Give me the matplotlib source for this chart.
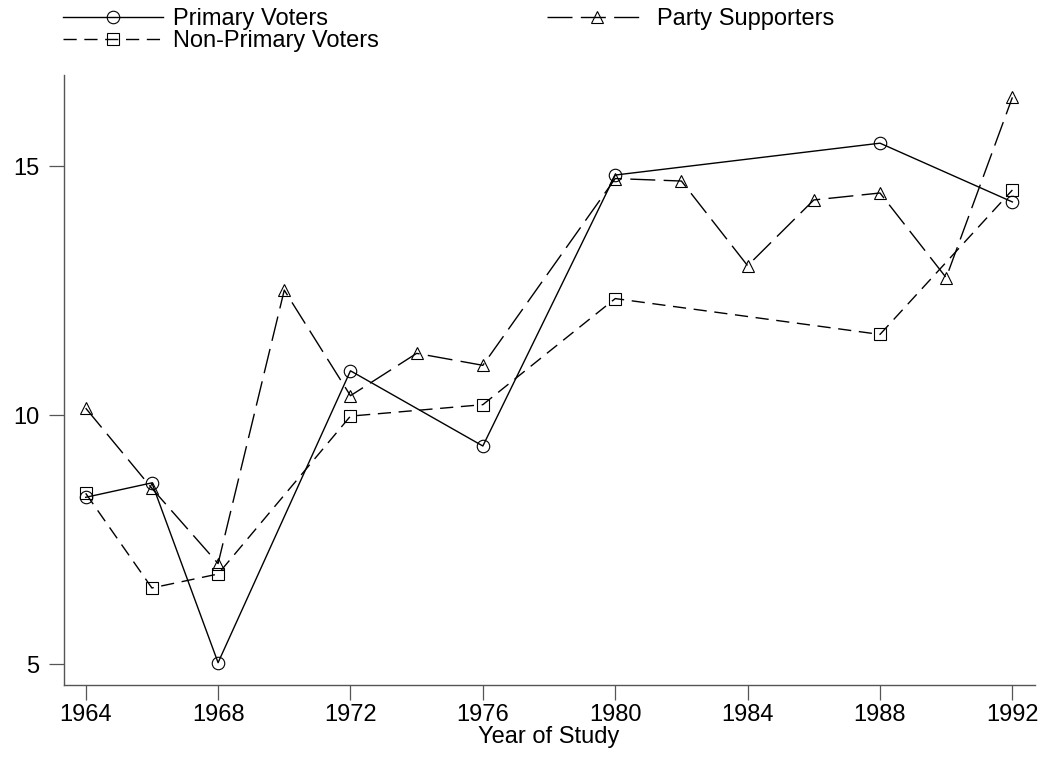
import matplotlib
matplotlib.use('Agg')
import matplotlib.pyplot as plt

plt.rcParams['font.family'] = ['Liberation Sans', 'DejaVu Sans']

# survey years and series values
primary_years = [1964, 1966, 1968, 1972, 1976, 1980, 1988, 1992]
primary_vals = [8.35, 8.64, 5.03, 10.89, 9.38, 14.82, 15.46, 14.28]

nonprimary_years = [1964, 1966, 1968, 1972, 1976, 1980, 1988, 1992]
nonprimary_vals = [8.43, 6.53, 6.81, 9.98, 10.21, 12.34, 11.62, 14.52]

party_years = [1964, 1966, 1968, 1970, 1972, 1974, 1976, 1980, 1982, 1984,
               1986, 1988, 1990, 1992]
party_vals = [10.14, 8.53, 7.02, 12.51, 10.39, 11.24, 11.0, 14.75, 14.70,
              13.0, 14.32, 14.46, 12.76, 16.38]

xticks = [1964, 1968, 1972, 1976, 1980, 1984, 1988, 1992]
yticks = [5, 10, 15]

fig = plt.figure(figsize=(10.43, 7.57), dpi=100)
ax = fig.add_axes([0.0609, 0.095, 0.931, 0.806])

mk = dict(markersize=9, markerfacecolor='none', markeredgecolor='black',
          markeredgewidth=0.8, color='black', linewidth=1.0)

l1, = ax.plot(primary_years, primary_vals, marker='o', linestyle='-',
              label='Primary Voters', **mk)
l2, = ax.plot(nonprimary_years, nonprimary_vals, marker='s', linestyle='--',
              dashes=(9.5, 5.5), label='Non-Primary Voters', **mk)
l3, = ax.plot(party_years, party_vals, marker='^', linestyle='--',
              dashes=(18, 6), label='Party Supporters', **mk)

ax.set_xlim(1963.33, 1992.67)
ax.set_ylim(4.58, 16.83)
ax.set_xticks(xticks)
ax.set_yticks(yticks)

for side in ['top', 'right']:
    ax.spines[side].set_visible(False)
for side in ['left', 'bottom']:
    ax.spines[side].set_color('#555555')
    ax.spines[side].set_linewidth(1.0)

ax.tick_params(axis='both', direction='out', length=10.5, width=0.9,
               color='#555555', labelsize=17, pad=3)
ax.tick_params(axis='y', pad=7)
ax.set_xlabel('Year of Study', fontsize=17, labelpad=0)

fig.legend(handles=[l1, l2, l3], loc='upper left', ncol=2,
           bbox_to_anchor=(63 / 1043, 1 - 8 / 757), frameon=False,
           fontsize=17, handlelength=4.25, handletextpad=0.42,
           columnspacing=7.1, labelspacing=0.0, borderpad=0,
           borderaxespad=0)

fig.savefig('out.png', dpi=100)
